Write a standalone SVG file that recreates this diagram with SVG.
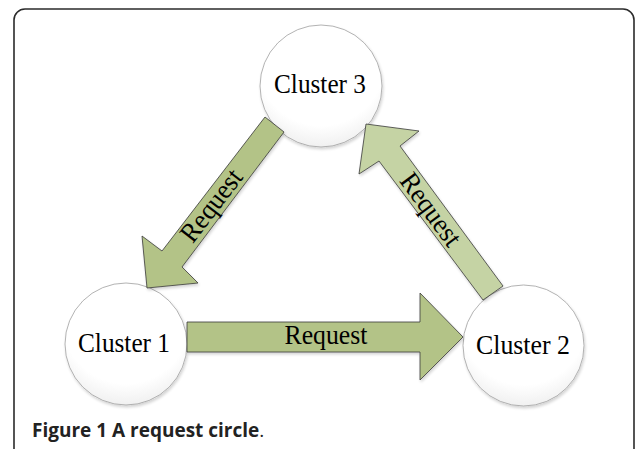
<svg xmlns="http://www.w3.org/2000/svg" width="636" height="449" viewBox="0 0 636 449">
<defs>
<radialGradient id="cg" cx="0.5" cy="0.3" r="0.75">
<stop offset="0.7" stop-color="#ffffff"/>
<stop offset="1" stop-color="#ececec"/>
</radialGradient>
<filter id="sh" x="-20%" y="-20%" width="140%" height="140%">
<feGaussianBlur in="SourceAlpha" stdDeviation="1.5"/>
<feOffset dx="1" dy="2" result="b"/>
<feComponentTransfer><feFuncA type="linear" slope="0.18"/></feComponentTransfer>
<feMerge><feMergeNode/><feMergeNode in="SourceGraphic"/></feMerge>
</filter>
</defs>
<style>
.node ellipse{fill:url(#cg);stroke:#a0a0a0;stroke-width:0.8}
.lbl{font-family:"Liberation Serif","Times New Roman",serif;font-size:27.5px;fill:#000;text-anchor:middle}
.arr{stroke:#3a3a3a;stroke-width:0.8;stroke-linejoin:miter}
.a1{fill:#b3c387}
.a2{fill:#c5d3a4}
.cap{font-family:"Open Sans","Liberation Sans",sans-serif;font-size:19px;fill:#222}
</style>
<rect x="14" y="9" width="620" height="460" rx="11" ry="11" fill="#fff" stroke="#2b2b2b" stroke-width="1.6"/>
<g id="node-cluster3" class="node">
<ellipse cx="321" cy="86" rx="61" ry="61" filter="url(#sh)"/>
<text class="lbl" x="320" y="93" textLength="92" lengthAdjust="spacingAndGlyphs">Cluster 3</text>
</g>
<g id="node-cluster1" class="node">
<ellipse cx="126" cy="344" rx="61" ry="61" filter="url(#sh)"/>
<text class="lbl" x="124" y="352" textLength="92" lengthAdjust="spacingAndGlyphs">Cluster 1</text>
</g>
<g id="node-cluster2" class="node">
<ellipse cx="523.5" cy="345.5" rx="60.5" ry="60.5" filter="url(#sh)"/>
<text class="lbl" x="523" y="354" textLength="94" lengthAdjust="spacingAndGlyphs">Cluster 2</text>
</g>
<g id="connectors">
<g id="edge-3-1">
<polygon class="arr a1" filter="url(#sh)" points="265,117 284,132 182,267 198,283 147,288 142,236 162,251"/>
<text class="lbl" transform="translate(212,206) rotate(-52.4)" y="8" textLength="84" lengthAdjust="spacingAndGlyphs">Request</text>
</g>
<g id="edge-2-3">
<polygon class="arr a2" filter="url(#sh)" points="503,286 483,300 379,161 359,174 366,124 419,131 400,146"/>
<text class="lbl" transform="translate(430,210) rotate(53.6)" y="8" textLength="84" lengthAdjust="spacingAndGlyphs">Request</text>
</g>
<g id="edge-1-2">
<polygon class="arr a1" filter="url(#sh)" points="187,322 420,322 420,293 463,337 420,380 420,352 187,352"/>
<text class="lbl" x="326" y="344" textLength="83" lengthAdjust="spacingAndGlyphs">Request</text>
</g>
</g>
<text class="cap" x="32" y="437"><tspan font-weight="bold">Figure 1 A request circle</tspan>.</text>
</svg>
